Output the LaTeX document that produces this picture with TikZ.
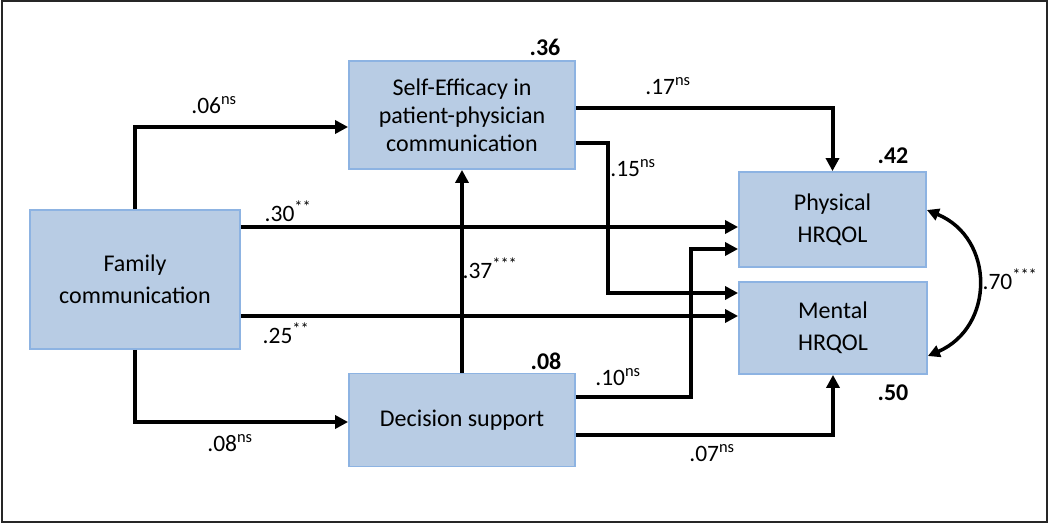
\documentclass[tikz,border=0pt]{standalone}
\usepackage{fontspec}
\setmainfont{Carlito}
\usetikzlibrary{arrows.meta}
\definecolor{boxfill}{HTML}{B8CCE4}
\definecolor{boxline}{HTML}{8DB3E2}
\begin{document}
\begin{tikzpicture}[x=1pt,y=-1pt,
  box/.style={draw=boxline, line width=1.8pt, fill=boxfill, align=center,
    font=\fontsize{24}{28}\selectfont, inner sep=0pt},
  arr/.style={line width=4pt, -{Triangle[length=13pt,width=13pt]}},
  lab/.style={font=\fontsize{23.5}{26}\selectfont, inner sep=0pt},
  r2/.style={font=\fontsize{24}{26}\selectfont\bfseries, inner sep=0pt}]
\useasboundingbox (0,0) rectangle (1050,524);
\draw[line width=2pt, black!85] (2,1) rectangle (1047,522);

\node[box, minimum width=210pt, minimum height=139pt] (fam) at (135,279.5) {Family\\[4pt]communication};
\node[box, minimum width=226pt, minimum height=108pt] (self) at (462,115) {Self-Efficacy in\\patient-physician\\communication};
\node[box, minimum width=187pt, minimum height=95pt] (phys) at (832.5,219.5) {Physical\\[4pt]HRQOL};
\node[box, minimum width=188pt, minimum height=92pt] (ment) at (833,328) {Mental\\[4pt]HRQOL};
\node[box, minimum width=226pt, minimum height=93pt] (dec) at (462,420) {Decision support};

% connectors
\draw[arr] (fam.north) |- (self.west |- 0,127);
\draw[arr] (fam.east |- 0,227) -- (phys.west |- 0,227);
\draw[arr] (fam.east |- 0,316) -- (ment.west |- 0,316);
\draw[arr] (fam.south) |- (dec.west |- 0,422);
\draw[arr] (dec.north) -- (self.south);
\draw[arr] (self.east |- 0,108) -| (phys.north);
\draw[arr] (self.east |- 0,143) -| (608,293) -- (ment.west |- 0,293);
\draw[arr] (dec.east |- 0,397) -| (691,249) -- (phys.west |- 0,249);
\draw[arr] (dec.east |- 0,435) -| (ment.south);
\draw[line width=3.5pt, {Triangle[length=12pt,width=12pt]}-{Triangle[length=12pt,width=12pt]}]
  (phys.east |- 0,210) .. controls (995,238) and (995,327) .. (ment.east |- 0,356);

% labels
\node[lab] (l06) at (214,105) {.06\textsuperscript{ns}};
\node[lab] (l30) at (288,211) {.30\textsuperscript{**}};
\node[lab] (l25) at (286,333) {.25\textsuperscript{**}};
\node[lab] (l08) at (230,443) {.08\textsuperscript{ns}};
\node[lab] (l37) at (490,268) {.37\textsuperscript{***}};
\node[lab] (l17) at (668,86) {.17\textsuperscript{ns}};
\node[lab] (l15) at (633,168) {.15\textsuperscript{ns}};
\node[lab] (l10) at (618,377) {.10\textsuperscript{ns}};
\node[lab] (l07) at (712,453) {.07\textsuperscript{ns}};
\node[lab] (l70) at (1010,279) {.70\textsuperscript{***}};

\node[r2] (r36) at (545,47) {.36};
\node[r2] (r42) at (893,156) {.42};
\node[r2] (r08) at (546,361) {.08};
\node[r2] (r50) at (893,393) {.50};
\end{tikzpicture}
\end{document}
